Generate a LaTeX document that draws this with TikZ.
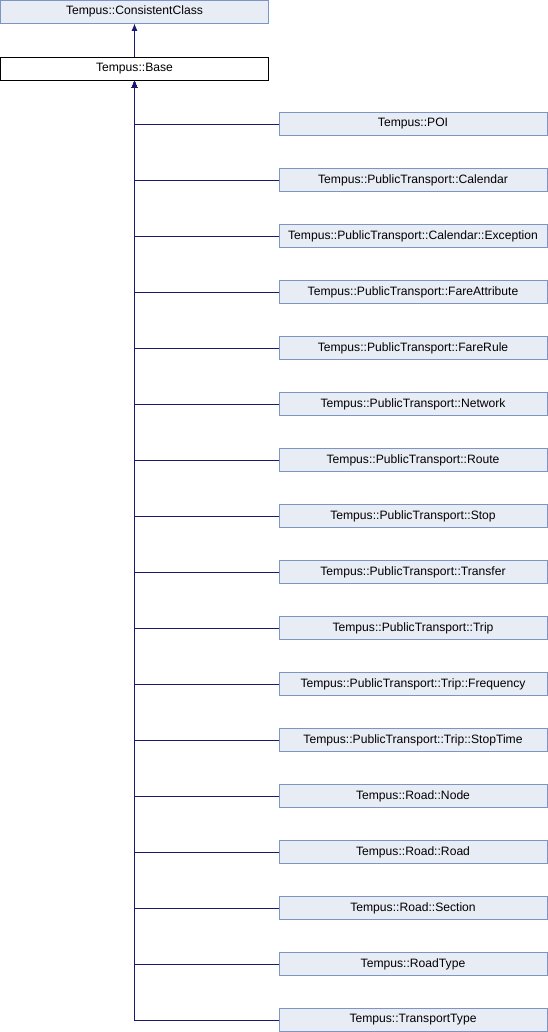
\documentclass[tikz,border=0pt]{standalone}
\usepackage{fontspec}
\setmainfont{Liberation Sans}
\usepackage{xcolor}
\usepackage{tikz}
\usetikzlibrary{positioning, arrows.meta}

\definecolor{clsfill}{HTML}{E8ECF4}
\definecolor{clsline}{HTML}{7C95C4}
\definecolor{edgeblue}{HTML}{191970}

\tikzset{
  cls/.style={draw=clsline, fill=clsfill, line width=0.75pt, minimum width=201pt, minimum height=17.25pt,
    inner sep=0pt, font=\fontsize{9.1}{10}\selectfont},
  curcls/.style={cls, draw=black, fill=white},
  inherit/.style={draw=edgeblue, line width=0.75pt, {Latex[length=5.5pt,width=4.5pt]}-}
}

\begin{document}
\begin{tikzpicture}[x=0.75pt, y=-0.75pt]
  \useasboundingbox (0,0) rectangle (548,1032);
  \node[cls] (consistent) at (134.5,11.5) {Tempus::ConsistentClass};
  \node[curcls] (base) at (134.5,68.5) {Tempus::Base};
  \draw[inherit] (consistent.south) -- (base.north);
  % derived classes
  \foreach \i/\val in {0/POI, 1/PublicTransport::Calendar, 2/PublicTransport::Calendar::Exception,
      3/PublicTransport::FareAttribute, 4/PublicTransport::FareRule, 5/PublicTransport::Network,
      6/PublicTransport::Route, 7/PublicTransport::Stop, 8/PublicTransport::Transfer,
      9/PublicTransport::Trip, 10/PublicTransport::Trip::Frequency, 11/PublicTransport::Trip::StopTime,
      12/Road::Node, 13/Road::Road, 14/Road::Section, 15/RoadType, 16/TransportType} {
    \node[cls] (c\i) at (413,124+\i*56) {Tempus::\val};
    \draw[inherit] (base.south) |- (c\i.west);
  }
\end{tikzpicture}
\end{document}
